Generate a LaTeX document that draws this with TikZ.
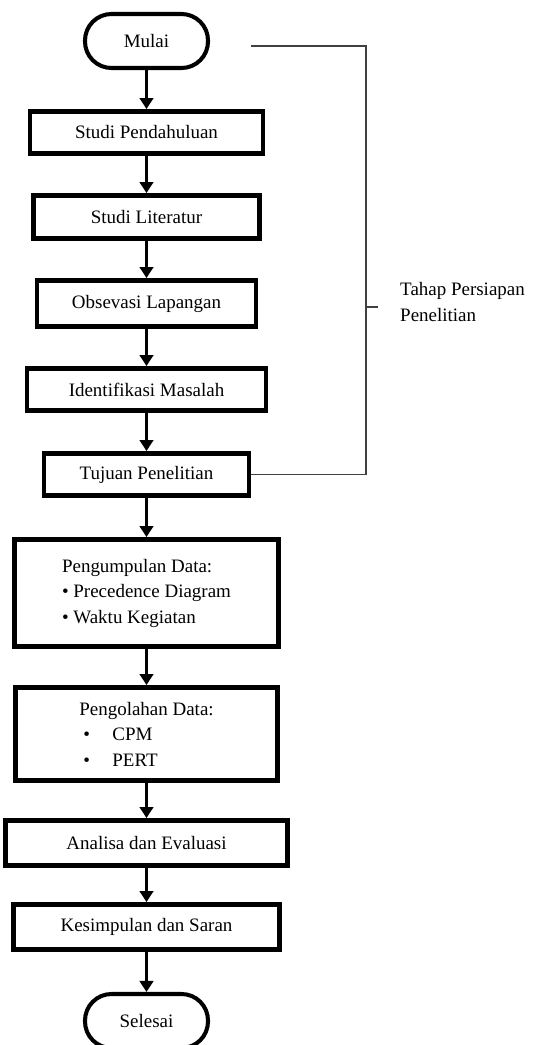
\documentclass[tikz,border=0pt]{standalone}
\usepackage{fontspec}
\setmainfont{Liberation Serif}
\usepackage{tikz}
\usetikzlibrary{arrows.meta, positioning}
\tikzset{
    proses/.style={draw, line width=2.8pt, inner sep=2pt, align=center},
    terminal/.style={draw, line width=2.3pt, rounded corners=0.53cm, minimum width=2.46cm, minimum height=1.08cm},
    panah/.style={-{Triangle[length=0.22cm,width=0.27cm]}, line width=1.6pt},
    kurung/.style={draw=black!75, line width=0.8pt}
}

\begin{document}
\begin{tikzpicture}[every node/.style={font=\fontsize{10.8}{14.5}\selectfont}]
    \useasboundingbox (0,0) rectangle (10.72,-20.9);
    \node[terminal](mulai)at(2.93,-0.82){Mulai};
    \node[proses,minimum width=4.66cm,minimum height=0.84cm](pend)at(2.93,-2.65){Studi Pendahuluan};
    \node[proses,minimum width=4.52cm,minimum height=0.86cm](lit)at(2.93,-4.34){Studi Literatur};
    \node[proses,minimum width=4.38cm,minimum height=0.92cm](obs)at(2.93,-6.07){Obsevasi Lapangan};
    \node[proses,minimum width=4.78cm,minimum height=0.84cm](idf)at(2.93,-7.79){Identifikasi Masalah};
    \node[proses,minimum width=4.10cm,minimum height=0.84cm](tuj)at(2.93,-9.49){Tujuan Penelitian};
    \node[proses,align=left,minimum width=5.28cm,minimum height=2.14cm](kump)at(2.93,-11.86){Pengumpulan Data:\\\textbullet\ Precedence Diagram\\\textbullet\ Waktu Kegiatan};
    \node[proses,align=left,minimum width=5.24cm,minimum height=1.86cm](olah)at(2.93,-14.68){Pengolahan Data:\\\hspace*{0.08cm}\textbullet\hspace{0.45cm}CPM\\\hspace*{0.08cm}\textbullet\hspace{0.45cm}PERT};
    \node[proses,minimum width=5.64cm,minimum height=0.90cm](anl)at(2.93,-16.86){Analisa dan Evaluasi};
    \node[proses,minimum width=5.32cm,minimum height=0.90cm](kes)at(2.93,-18.54){Kesimpulan dan Saran};
    \node[terminal](selesai)at(2.93,-20.42){Selesai};
    \draw[panah](mulai)--(pend);
    \draw[panah](pend)--(lit);
    \draw[panah](lit)--(obs);
    \draw[panah](obs)--(idf);
    \draw[panah](idf)--(tuj);
    \draw[panah](tuj)--(kump);
    \draw[panah](kump)--(olah);
    \draw[panah](olah)--(anl);
    \draw[panah](anl)--(kes);
    \draw[panah](kes)--(selesai);
    % kurung tahap persiapan
    \coordinate(brawal)at(5.02,-0.92);
    \coordinate(brtengah)at(7.32,-6.14);
    \coordinate(brujung)at(7.56,-6.14);
    \node[anchor=west,align=left](tahap)at(7.88,-6.04){Tahap Persiapan\\Penelitian};
    \draw[kurung](brawal)-|(brtengah)|-(tuj.east);
    \draw[kurung](brtengah)--(brujung);
\end{tikzpicture}
\end{document}
